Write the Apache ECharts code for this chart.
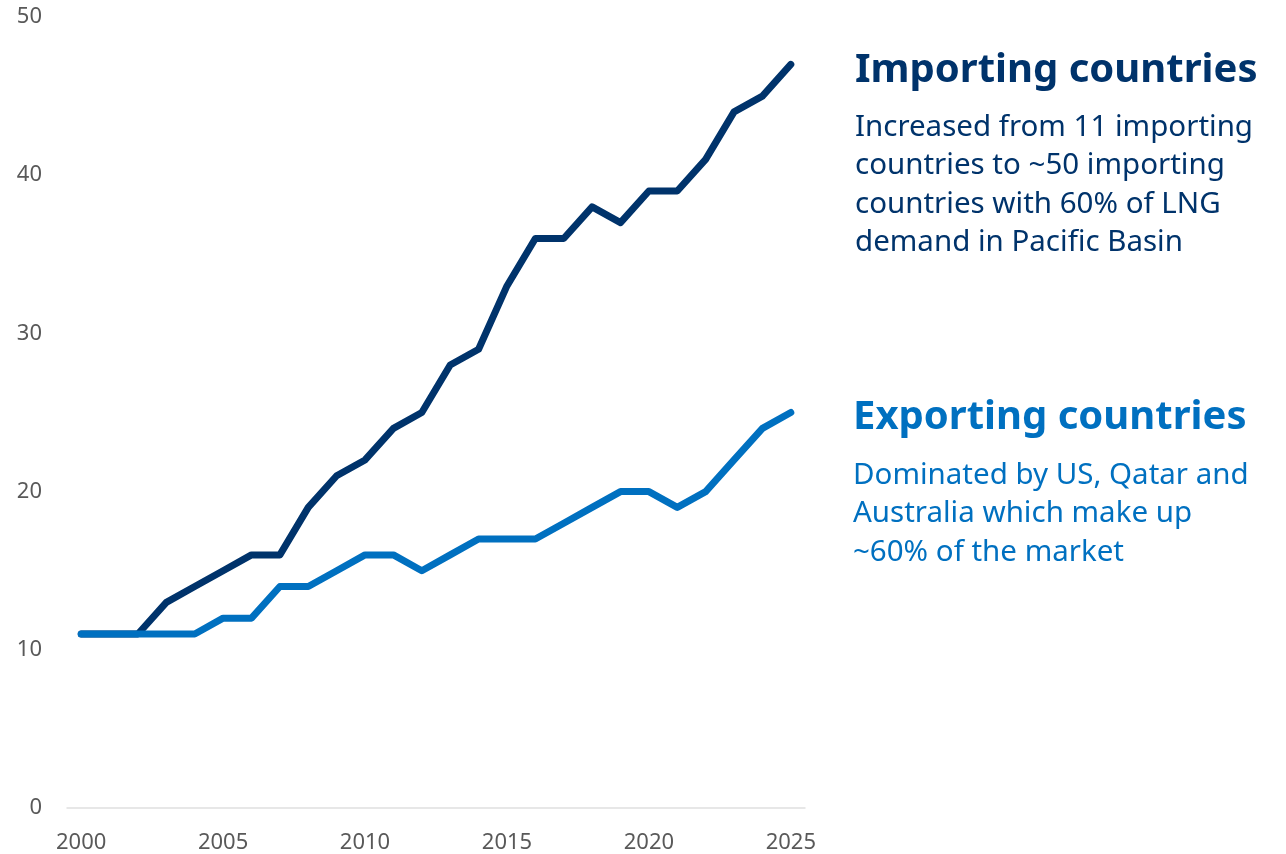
<!DOCTYPE html>
<html lang="en">

<head>
    <meta charset="UTF-8" />
    <title>LNG importing and exporting countries</title>
    <script src="https://cdn.jsdelivr.net/npm/echarts@6/dist/echarts.min.js"></script>
</head>
<style>
    * {
        margin: 0;
        padding: 0;
    }

    #main {
        width: 1286px;
        height: 854px;
        background: #fff;
    }
</style>

<body>
    <div id="main"></div>
</body>
<script>
    const years = [];
    for (let y = 2000; y <= 2025; y++) years.push(String(y));

    const importing = [11, 11, 11, 13, 14, 15, 16, 16, 19, 21, 22, 24, 25, 28, 29, 33, 36, 36, 38, 37, 39, 39, 41, 44, 45, 47];
    const exporting = [11, 11, 11, 11, 11, 12, 12, 14, 14, 15, 16, 16, 15, 16, 17, 17, 17, 18, 19, 20, 20, 19, 20, 22, 24, 25];

    const navy = "#00336b";
    const blue = "#0070c0";
    const font = "'Noto Sans', 'Open Sans', sans-serif";

    var myChart = echarts.init(document.getElementById("main"));
    var option = {
        animation: false,
        grid: { left: 67, right: 481, top: 17, bottom: 46 },
        xAxis: {
            type: "category",
            data: years,
            boundaryGap: true,
            axisLine: { lineStyle: { color: "#e0e0e0", width: 1.5 } },
            axisTick: { show: false },
            axisLabel: {
                interval: 0,
                formatter: function (v, i) {
                    return i % 5 === 0 ? v : "";
                },
                color: "#595959",
                fontSize: 22,
                fontFamily: font,
                margin: 24,
            },
        },
        yAxis: {
            type: "value",
            min: 0,
            max: 50,
            interval: 10,
            splitLine: { show: false },
            axisLine: { show: false },
            axisLabel: { color: "#595959", fontSize: 22, fontFamily: font, margin: 25 },
        },
        series: [
            {
                name: "Importing countries",
                type: "line",
                data: importing,
                symbol: "none",
                lineStyle: { color: navy, width: 7, cap: "round", join: "round" },
            },
            {
                name: "Exporting countries",
                type: "line",
                data: exporting,
                symbol: "none",
                lineStyle: { color: blue, width: 7, cap: "round", join: "round" },
            },
        ],
        graphic: [
            {
                type: "text",
                left: 855,
                top: 51,
                style: { text: "Importing countries", fill: navy, font: "bold 40px " + font },
            },
            {
                type: "text",
                left: 855,
                top: 108,
                style: {
                    text: "Increased from 11 importing\ncountries to ~50 importing\ncountries with 60% of LNG\ndemand in Pacific Basin",
                    fill: navy,
                    font: "29.5px " + font,
                    lineHeight: 38.5,
                },
            },
            {
                type: "text",
                left: 853,
                top: 398,
                style: { text: "Exporting countries", fill: blue, font: "bold 40px " + font },
            },
            {
                type: "text",
                left: 853,
                top: 456,
                style: {
                    text: "Dominated by US, Qatar and\nAustralia which make up\n~60% of the market",
                    fill: blue,
                    font: "29.5px " + font,
                    lineHeight: 38.5,
                },
            },
        ],
    };
    option && myChart.setOption(option);
</script>

</html>
